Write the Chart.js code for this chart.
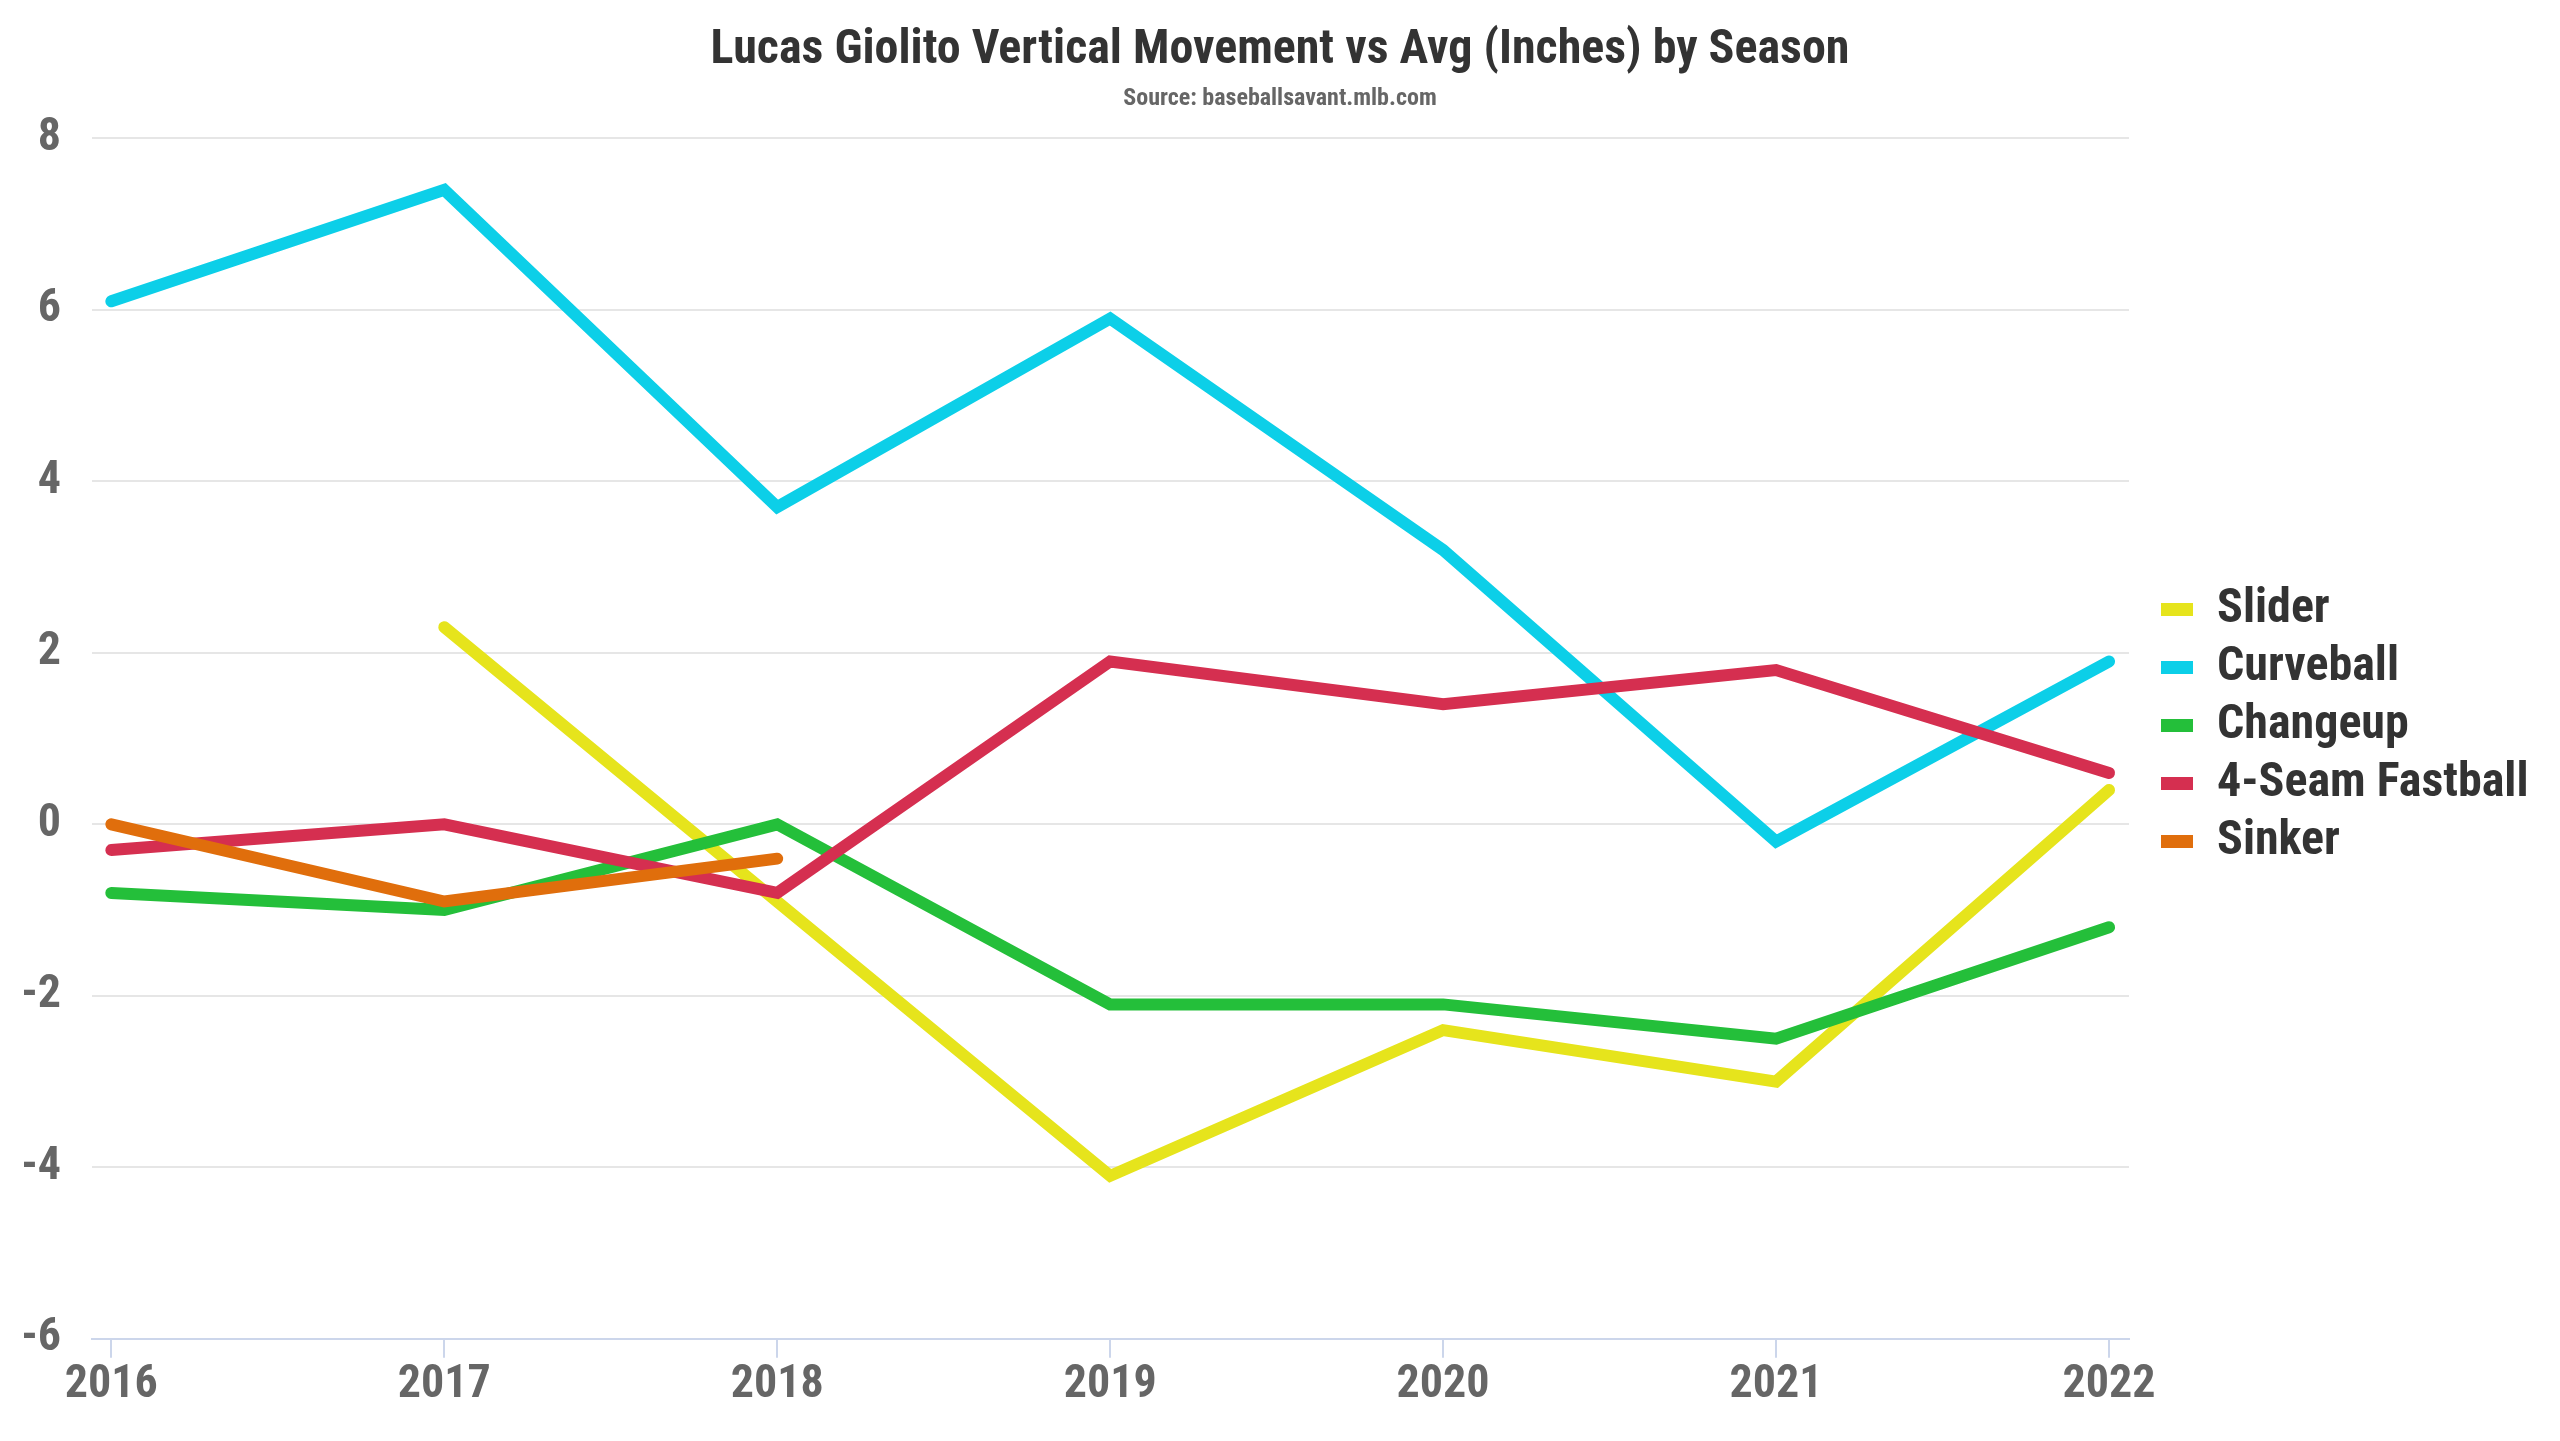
<!DOCTYPE html>
<html>
<head>
<meta charset="utf-8">
<script src="https://cdn.jsdelivr.net/npm/chart.js@4.4.1/dist/chart.umd.min.js"></script>
<style>
  html,body{margin:0;padding:0;background:#fff;}
  #wrap{width:2560px;height:1441px;}
</style>
</head>
<body>
<div id="wrap"><canvas id="chartGiolito" width="2560" height="1441"></canvas></div>
<script>
//=========================datos============================
const temporadas = [2016, 2017, 2018, 2019, 2020, 2021, 2022];
const slider     = [null, 2.3, -0.9, -4.1, -2.4, -3.0, 0.4];
const curveball  = [6.1, 7.4, 3.7, 5.9, 3.2, -0.2, 1.9];
const changeup   = [-0.8, -1.0, 0.0, -2.1, -2.1, -2.5, -1.2];
const fastball4s = [-0.3, 0.0, -0.8, 1.9, 1.4, 1.8, 0.6];
const sinker     = [0.0, -0.9, -0.4, null, null, null, null];
const ticksY     = [-6, -4, -2, 0, 2, 4, 6, 8];

const fuente = "'Roboto Condensed', Roboto, 'Noto Sans', sans-serif";

function serie(label, data, color, orden){
  return {
    label           : label,
    data            : data,
    borderColor     : color,
    backgroundColor : color,
    borderWidth     : 12,
    borderCapStyle  : 'round',
    borderJoinStyle : 'miter',
    pointRadius     : 0,
    pointHoverRadius: 0,
    spanGaps        : false,
    tension         : 0,
    order           : orden   // Highcharts pinta la ultima serie encima
  };
}

let chartData = {
  labels  : temporadas,
  datasets: [
    serie('Slider',          slider,     '#e6e41c', 5),
    serie('Curveball',       curveball,  '#0ccfe8', 4),
    serie('Changeup',        changeup,   '#24bf3a', 3),
    serie('4-Seam Fastball', fastball4s, '#d52f50', 2),
    serie('Sinker',          sinker,     '#e06e0c', 1)
  ]
};

// titulos centrados en todo el ancho y leyenda un poco mas a la derecha
const ajusteCajas = {
  id: 'ajusteCajas',
  afterLayout(chart){
    chart.boxes.forEach(b => {
      if (b.position === 'top' && b.options && b.options.text !== undefined) {
        b.left = 0;
        b.right = chart.width;
      }
    });
    if (chart.legend) {
      chart.legend.left  += 22;
      chart.legend.right += 22;
    }
  }
};

let chartOptions = {
  responsive      : false,
  animation       : false,
  devicePixelRatio: 1,
  layout: { padding: { top: 0, left: 23, right: 20, bottom: 28 } },
  plugins: {
    title: {
      display: true,
      text   : 'Lucas Giolito Vertical Movement vs Avg (Inches) by Season',
      color  : '#333333',
      font   : { family: fuente, size: 48, weight: 'bold condensed', lineHeight: 1.2 },
      padding: { top: 22, bottom: 5 }
    },
    subtitle: {
      display: true,
      text   : 'Source: baseballsavant.mlb.com',
      color  : '#666666',
      font   : { family: fuente, size: 24, weight: 'bold condensed', lineHeight: 1.2 },
      padding: { top: 0, bottom: 25 }
    },
    legend: {
      position: 'right',
      align   : 'center',
      title   : { display: true, text: '', font: { size: 1, lineHeight: 1 }, padding: { top: 0, bottom: 37 } },
      labels  : {
        boxWidth : 32,
        boxHeight: 13,
        padding  : 10,
        color    : '#333333',
        font     : { family: fuente, size: 48, weight: 'bold condensed', lineHeight: 1.0 },
        sort     : (a, b) => a.datasetIndex - b.datasetIndex,
        // cuadrito plano, sin el borde grueso de la linea
        generateLabels: (chart) => Chart.defaults.plugins.legend.labels.generateLabels(chart)
                                      .map(item => Object.assign(item, { lineWidth: 0 }))
      }
    },
    tooltip: { enabled: false }
  },
  scales: {
    x: {
      type: 'linear',
      min : temporadas[0] - 0.058,
      max : temporadas[temporadas.length - 1] + 0.06,
      afterBuildTicks: (eje) => { eje.ticks = temporadas.map(v => ({ value: v })); },
      grid  : { drawOnChartArea: false, drawTicks: true, tickLength: 19, color: '#ccd6eb', lineWidth: 2 },
      border: { display: true, color: '#ccd6eb', width: 2 },
      ticks : {
        color: '#666666', padding: 0, maxRotation: 0, autoSkip: false,
        font : { family: fuente, size: 46, weight: 'bold condensed', lineHeight: 1.2 },
        callback: (v) => String(v)
      }
    },
    y: {
      min: ticksY[0],
      max: ticksY[ticksY.length - 1],
      afterBuildTicks: (eje) => { eje.ticks = ticksY.map(v => ({ value: v })); },
      afterFit: (eje) => { eje.width = 69; },   // ancho fijo del eje como en el original
      grid  : { color: '#e6e6e6', lineWidth: 2, drawTicks: false },
      border: { display: false },
      ticks : {
        color: '#666666', padding: 31,
        font : { family: fuente, size: 46, weight: 'bold condensed', lineHeight: 1.2 }
      }
    }
  }
};

let chartCanvas = document.getElementById('chartGiolito').getContext('2d');
let miChart = new Chart(chartCanvas, { type: 'line', data: chartData, options: chartOptions, plugins: [ajusteCajas] });

// ajustar paddings para que el area del grafico quede donde en el original (92 .. 2129)
function ajustarArea(){
  let pad = miChart.options.layout.padding;
  let difIzq = miChart.chartArea.left - 92;
  let difDer = miChart.chartArea.right - 2129;
  pad.left  = Math.max(0, pad.left - difIzq);
  pad.right = Math.max(0, pad.right + difDer);
  miChart.update();
}
ajustarArea();
ajustarArea();
</script>
</body>
</html>
